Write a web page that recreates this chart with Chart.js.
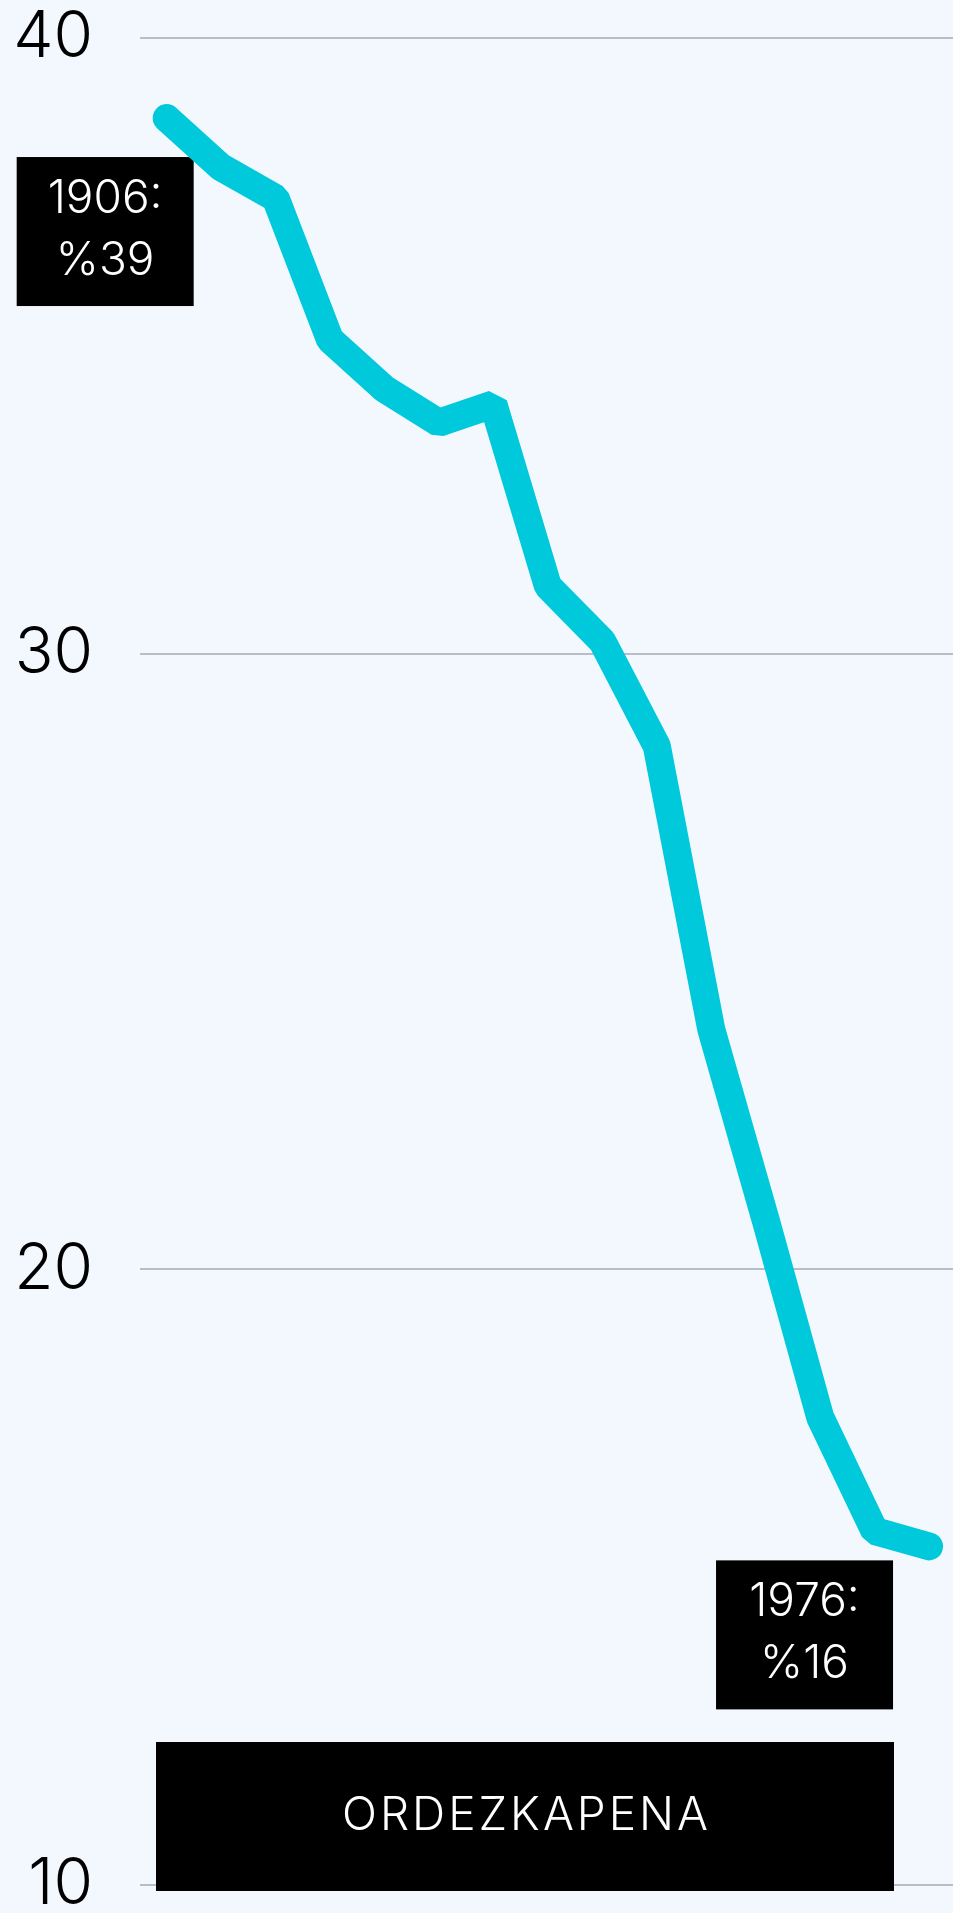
<!DOCTYPE html>
<html>
<head>
<meta charset="utf-8">
<script src="https://cdn.jsdelivr.net/npm/chart.js@4/dist/chart.umd.min.js"></script>
<style>
  html, body { margin: 0; padding: 0; background: #F3F8FF; }
  #wrap { width: 953px; height: 1913px; position: relative; }
</style>
</head>
<body>
<div id="wrap"><canvas id="c" width="953" height="1913"></canvas></div>
<script>
const years = [1906, 1911, 1916, 1921, 1926, 1931, 1936, 1941, 1946, 1951, 1956, 1961, 1966, 1971, 1976];
const shares = [38.7, 37.9, 37.4, 35.1, 34.3, 33.75, 34.05, 31.1, 30.2, 28.5, 23.9, 20.8, 17.6, 15.75, 15.5];
const yTicks = [10, 20, 30, 40];
const axisTitle = 'ORDEZKAPENA';
const calloutIndexes = [0, shares.length - 1];

const FONT = 'Inter, Lato, "Noto Sans", sans-serif';
const LINE = '#00C9DB';

const calloutPlugin = {
  id: 'callouts',
  beforeDatasetsDraw(chart) {
    const ctx = chart.ctx;
    const xs = chart.scales.x, ys = chart.scales.y, area = chart.chartArea;
    ctx.save();
    // bottom title box
    const bx = area.left + 16, bw = area.right - 59 - bx, bh = 149, by = area.bottom + 6 - bh;
    ctx.fillStyle = '#000';
    ctx.fillRect(bx, by, bw, bh);
    ctx.fillStyle = '#fff';
    ctx.font = '300 46px ' + FONT;
    ctx.textAlign = 'center';
    ctx.textBaseline = 'middle';
    if ('letterSpacing' in ctx) ctx.letterSpacing = '3px';
    ctx.fillText(axisTitle, bx + bw / 2 + 1.5, by + bh / 2);
    if ('letterSpacing' in ctx) ctx.letterSpacing = '0px';
    // value callouts
    const offsets = [{dx: -150, dy: 39}, {dx: -213, dy: 14}];
    calloutIndexes.forEach((idx, k) => {
      const px = xs.getPixelForValue(years[idx]);
      const py = ys.getPixelForValue(shares[idx]);
      const w = 177, h = 149;
      const l = px + offsets[k].dx, t = py + offsets[k].dy;
      ctx.fillStyle = '#000';
      ctx.fillRect(l, t, w, h);
      ctx.fillStyle = '#fff';
      ctx.font = '300 46px ' + FONT;
      ctx.fillText(years[idx] + ':', l + w / 2, t + 42);
      ctx.fillText('%' + Math.round(shares[idx]), l + w / 2, t + 104);
    });
    ctx.restore();
  }
};

new Chart(document.getElementById('c'), {
  type: 'line',
  data: {
    datasets: [{
      data: years.map((y, i) => ({x: y, y: shares[i]})),
      borderColor: LINE,
      borderWidth: 28,
      borderCapStyle: 'round',
      borderJoinStyle: 'bevel',
      pointRadius: 0,
      pointHoverRadius: 0,
      tension: 0,
      fill: false,
      clip: false
    }]
  },
  options: {
    responsive: false,
    animation: false,
    events: [],
    layout: { padding: { top: 38, right: 0, bottom: 0, left: 0 } },
    plugins: { legend: { display: false }, tooltip: { enabled: false } },
    scales: {
      x: {
        type: 'linear',
        display: false,
        min: 1903.55,
        max: 1978.2
      },
      y: {
        min: 10,
        max: 40,
        afterBuildTicks(scale) { scale.ticks = yTicks.map(v => ({value: v})); },
        afterFit(scale) { scale.width = 140; },
        border: { display: false },
        grid: { color: '#B9BDC8', lineWidth: 2, drawTicks: true, tickLength: 47, tickColor: 'rgba(0,0,0,0)' },
        ticks: {
          color: '#000',
          padding: 0,
          font: { family: FONT, size: 64, weight: '300', lineHeight: 0.875 }
        }
      }
    }
  },
  plugins: [calloutPlugin]
});
</script>
</body>
</html>
